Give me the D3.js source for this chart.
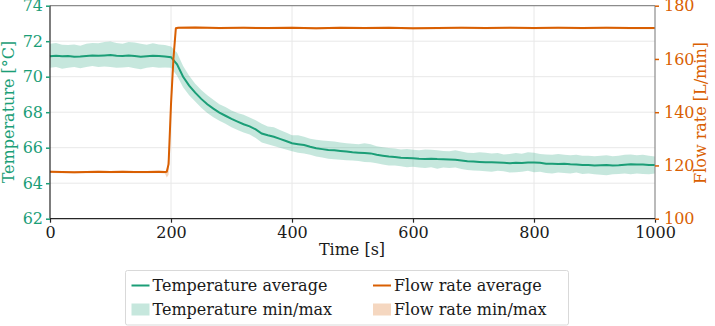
<!DOCTYPE html>
<html>
<head>
<meta charset="utf-8">
<script src="https://cdn.jsdelivr.net/npm/d3@7"></script>
<style>
  body { margin: 0; background: #fff; }
</style>
</head>
<body>
<div id="chart"></div>
<script>
// temperature samples, every 10 s
const tempTime = d3.range(0, 1001, 10);
const tempAvg = [
    71.15, 71.18, 71.15, 71.16, 71.12, 71.14, 71.17, 71.20, 71.18, 71.20,
    71.22, 71.18, 71.17, 71.20, 71.16, 71.12, 71.15, 71.18, 71.16, 71.14,
    71.10, 70.70, 70.00, 69.50, 69.10, 68.75, 68.45, 68.20, 67.98, 67.80,
    67.62, 67.47, 67.32, 67.20, 67.03, 66.80, 66.70, 66.62, 66.50, 66.38,
    66.25, 66.20, 66.15, 66.05, 65.97, 65.92, 65.87, 65.85, 65.82, 65.78,
    65.74, 65.72, 65.70, 65.68, 65.60, 65.55, 65.50, 65.47, 65.44, 65.42,
    65.40, 65.38, 65.37, 65.38, 65.36, 65.35, 65.34, 65.32, 65.28, 65.24,
    65.22, 65.20, 65.18, 65.18, 65.17, 65.15, 65.13, 65.15, 65.14, 65.16,
    65.17, 65.15, 65.10, 65.10, 65.08, 65.10, 65.07, 65.05, 65.03, 65.02,
    65.00, 65.01, 65.02, 65.00, 65.01, 65.04, 65.07, 65.06, 65.05, 65.03,
    65.02
];
const tempMax = [
    71.85, 71.90, 71.80, 71.78, 71.82, 71.75, 71.85, 71.90, 71.88, 71.95,
    71.98, 71.90, 71.85, 71.95, 71.92, 71.85, 71.80, 71.88, 71.82, 71.78,
    71.70, 71.35, 70.60, 70.05, 69.60, 69.25, 68.95, 68.70, 68.45, 68.30,
    68.10, 67.95, 67.85, 67.70, 67.55, 67.35, 67.20, 67.15, 67.00, 66.85,
    66.70, 66.70, 66.62, 66.50, 66.45, 66.40, 66.38, 66.35, 66.30, 66.25,
    66.22, 66.20, 66.25, 66.20, 66.08, 66.02, 65.98, 65.95, 65.90, 65.92,
    65.88, 65.85, 65.90, 65.88, 65.85, 65.82, 65.80, 65.85, 65.78, 65.72,
    65.70, 65.75, 65.72, 65.68, 65.70, 65.62, 65.65, 65.70, 65.66, 65.75,
    65.72, 65.65, 65.62, 65.60, 65.65, 65.60, 65.58, 65.60, 65.55, 65.55,
    65.52, 65.55, 65.58, 65.52, 65.55, 65.60, 65.62, 65.58, 65.60, 65.55,
    65.50
];
const tempMin = [
    70.50, 70.55, 70.45, 70.50, 70.55, 70.48, 70.55, 70.60, 70.55, 70.58,
    70.55, 70.50, 70.52, 70.55, 70.48, 70.42, 70.50, 70.55, 70.50, 70.52,
    70.50, 70.05, 69.40, 68.95, 68.60, 68.25, 67.95, 67.72, 67.52, 67.35,
    67.15, 67.00, 66.85, 66.75, 66.55, 66.30, 66.20, 66.10, 66.00, 65.90,
    65.80, 65.72, 65.68, 65.60, 65.50, 65.45, 65.38, 65.35, 65.32, 65.30,
    65.28, 65.25, 65.20, 65.18, 65.12, 65.05, 65.00, 65.00, 64.95, 64.90,
    64.92, 64.88, 64.85, 64.90, 64.82, 64.88, 64.85, 64.88, 64.80, 64.75,
    64.72, 64.70, 64.68, 64.65, 64.70, 64.68, 64.60, 64.62, 64.65, 64.70,
    64.62, 64.65, 64.58, 64.55, 64.60, 64.58, 64.55, 64.60, 64.52, 64.55,
    64.50, 64.48, 64.45, 64.50, 64.52, 64.55, 64.50, 64.55, 64.52, 64.50,
    64.55
];

// flow rate samples, denser around the step
const flowTime = [0, 20, 40, 60, 80, 100, 120, 140, 160, 180,
    190, 193, 196, 200, 204, 208, 212, 240, 280, 320,
    360, 400, 440, 480, 520, 560, 600, 640, 680, 720,
    760, 800, 840, 880, 920, 960, 1000];
const flowAvg = [117.6, 117.5, 117.4, 117.5, 117.6, 117.5, 117.6, 117.5, 117.5, 117.6,
    117.5, 117.6, 120.5, 143.0, 160.0, 171.5, 171.7, 171.8, 171.6, 171.7,
    171.6, 171.7, 171.5, 171.7, 171.6, 171.7, 171.5, 171.6, 171.7, 171.6,
    171.7, 171.6, 171.7, 171.6, 171.7, 171.6, 171.6];
const flowMax = [118.0, 117.9, 117.8, 117.9, 118.0, 117.9, 118.0, 117.9, 117.9, 118.0,
    117.9, 118.2, 124.0, 147.0, 163.0, 172.0, 172.1, 172.2, 172.0, 172.1,
    172.0, 172.1, 171.9, 172.1, 172.0, 172.1, 171.9, 172.0, 172.1, 172.0,
    172.1, 172.0, 172.1, 172.0, 172.1, 172.0, 172.0];
const flowMin = [117.2, 117.1, 117.0, 117.1, 117.2, 117.1, 117.2, 117.1, 117.1, 117.2,
    117.0, 115.5, 116.5, 139.0, 157.0, 170.8, 171.3, 171.4, 171.2, 171.3,
    171.2, 171.3, 171.1, 171.3, 171.2, 171.3, 171.1, 171.2, 171.3, 171.2,
    171.3, 171.2, 171.3, 171.2, 171.3, 171.2, 171.2];

const timeTicks = [0, 200, 400, 600, 800, 1000];
const tempTicks = [62, 64, 66, 68, 70, 72, 74];
const flowTicks = [100, 120, 140, 160, 180];

const green = "#1b9e77";
const orange = "#d95f02";

const W = 715, H = 326;
const margin = { top: 5.7, left: 50 };
const width = 655 - margin.left;
const height = 218.7 - margin.top;

const svg = d3.select("#chart").append("svg")
    .attr("width", W)
    .attr("height", H);

const g = svg.append("g")
    .attr("transform", `translate(${margin.left},${margin.top})`);

const x = d3.scaleLinear().domain([0, 1000]).range([0, width]);
const yT = d3.scaleLinear().domain([62, 74]).range([height, 0]);
const yF = d3.scaleLinear().domain([100, 180]).range([height, 0]);

// grid
g.append("g").selectAll("line").data(timeTicks.slice(1, -1)).join("line")
    .attr("x1", d => x(d)).attr("x2", d => x(d))
    .attr("y1", 0).attr("y2", height)
    .attr("stroke", "#e8e8e8").attr("stroke-width", 1);
g.append("g").selectAll("line").data(tempTicks.slice(1, -1)).join("line")
    .attr("x1", 0).attr("x2", width)
    .attr("y1", d => yT(d)).attr("y2", d => yT(d))
    .attr("stroke", "#e8e8e8").attr("stroke-width", 1);

// temperature
const tempRows = tempTime.map((t, i) => ({ t, avg: tempAvg[i], lo: tempMin[i], hi: tempMax[i] }));
g.append("path").datum(tempRows)
    .attr("fill", green).attr("fill-opacity", 0.25)
    .attr("d", d3.area().x(d => x(d.t)).y0(d => yT(d.lo)).y1(d => yT(d.hi)));
g.append("path").datum(tempRows)
    .attr("fill", "none").attr("stroke", green).attr("stroke-width", 2)
    .attr("d", d3.line().x(d => x(d.t)).y(d => yT(d.avg)));

// flow rate
const flowRows = flowTime.map((t, i) => ({ t, avg: flowAvg[i], lo: flowMin[i], hi: flowMax[i] }));
g.append("path").datum(flowRows)
    .attr("fill", orange).attr("fill-opacity", 0.25)
    .attr("d", d3.area().x(d => x(d.t)).y0(d => yF(d.lo)).y1(d => yF(d.hi)));
g.append("path").datum(flowRows)
    .attr("fill", "none").attr("stroke", orange).attr("stroke-width", 2)
    .attr("stroke-linejoin", "round")
    .attr("d", d3.line().x(d => x(d.t)).y(d => yF(d.avg)));

// spines
g.append("line").attr("x1", 0).attr("x2", width).attr("y1", 0).attr("y2", 0)
    .attr("stroke", "#8c8c8c").attr("stroke-width", 1.2);
g.append("line").attr("x1", width).attr("x2", width).attr("y1", 0).attr("y2", height)
    .attr("stroke", "#8c8c8c").attr("stroke-width", 1.2);
g.append("line").attr("x1", 0).attr("x2", 0).attr("y1", 0).attr("y2", height)
    .attr("stroke", "#262626").attr("stroke-width", 1.2);
g.append("line").attr("x1", 0).attr("x2", width).attr("y1", height).attr("y2", height)
    .attr("stroke", "#262626").attr("stroke-width", 1.2);

// axes
const xAxis = g.append("g")
    .attr("transform", `translate(0,${height})`)
    .call(d3.axisBottom(x).tickValues(timeTicks).tickFormat(d3.format("d"))
        .tickSize(4).tickSizeOuter(0).tickPadding(4));
xAxis.select(".domain").remove();
xAxis.selectAll("line").attr("stroke", "#262626").attr("stroke-width", 1.2);
xAxis.selectAll("text").attr("fill", "#1a1a1a");

const yAxisL = g.append("g")
    .call(d3.axisLeft(yT).tickValues(tempTicks).tickSize(4).tickSizeOuter(0).tickPadding(3));
yAxisL.select(".domain").remove();
yAxisL.selectAll("line").attr("stroke", green).attr("stroke-width", 1.5);
yAxisL.selectAll("text").attr("fill", green);

const yAxisR = g.append("g")
    .attr("transform", `translate(${width},0)`)
    .call(d3.axisRight(yF).tickValues(flowTicks).tickSize(4).tickSizeOuter(0).tickPadding(5));
yAxisR.select(".domain").remove();
yAxisR.selectAll("line").attr("stroke", orange).attr("stroke-width", 1.5);
yAxisR.selectAll("text").attr("fill", orange);

// axis labels
svg.append("text")
    .attr("x", 352).attr("y", 255)
    .attr("text-anchor", "middle")
    .attr("fill", "#1a1a1a")
    .text("Time [s]");

svg.append("text")
    .attr("transform", "translate(14,112) rotate(-90)")
    .attr("text-anchor", "middle")
    .attr("fill", green)
    .text("Temperature [°C]");

svg.append("text")
    .attr("transform", "translate(706,113) rotate(-90)")
    .attr("text-anchor", "middle")
    .attr("fill", orange)
    .text("Flow rate [L/min]");

// legend
const legend = svg.append("g");
legend.append("rect")
    .attr("x", 125.5).attr("y", 270.5)
    .attr("width", 443).attr("height", 54.5)
    .attr("rx", 2)
    .attr("fill", "#fff").attr("stroke", "#d9d9d9");

const legendItems = [
    { label: "Temperature average", color: green, kind: "line", col: 0, row: 0 },
    { label: "Flow rate average", color: orange, kind: "line", col: 1, row: 0 },
    { label: "Temperature min/max", color: green, kind: "patch", col: 0, row: 1 },
    { label: "Flow rate min/max", color: orange, kind: "patch", col: 1, row: 1 },
];
const colX = [131.5, 373];
const rowY = [285.5, 309.5];

legendItems.forEach(item => {
    const lx = colX[item.col], ly = rowY[item.row];
    if (item.kind === "line") {
        legend.append("line")
            .attr("x1", lx).attr("x2", lx + 18)
            .attr("y1", ly).attr("y2", ly)
            .attr("stroke", item.color).attr("stroke-width", 2);
    } else {
        legend.append("rect")
            .attr("x", lx).attr("y", ly - 6)
            .attr("width", 18).attr("height", 12)
            .attr("fill", item.color).attr("fill-opacity", 0.25);
    }
    legend.append("text")
        .attr("x", lx + 21).attr("y", ly + 5.5)
        .attr("fill", "#1a1a1a")
        .text(item.label);
});

// every text in the serif face, set on the element itself
svg.selectAll("text")
    .attr("font-family", "DejaVu Serif")
    .attr("font-size", 16)
    .attr("style", "font-family:'DejaVu Serif';font-size:16px");
</script>
</body>
</html>
